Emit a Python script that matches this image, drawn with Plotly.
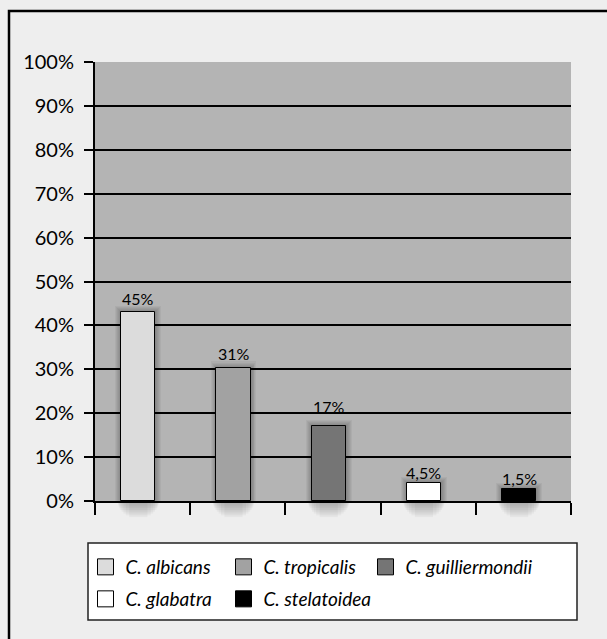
import plotly.graph_objects as go

species = ["C. albicans", "C. tropicalis", "C. guilliermondii", "C. glabatra", "C. stelatoidea"]
heights = [43.0, 30.3, 17.0, 4.0, 2.7]          # bar heights as drawn
labels = ["45%", "31%", "17%", "4,5%", "1,5%"]  # printed data labels
colors = ["#dcdcdc", "#a2a2a2", "#757575", "#ffffff", "#000000"]
ytick_vals = [0, 10, 20, 30, 40, 50, 60, 70, 80, 90, 100]
ytick_text = ["0%", "10%", "20%", "30%", "40%", "50%", "60%", "70%", "80%", "90%", "100%"]

# layout / style settings
W, H = 607, 639
L, R, T, B = 95, 36, 62, 138
pw, ph = W - L - R, H - T - B
label_lift = [14, 14, 20, 11, 11]     # px gap from bar top to label centre
leg_pos = [(105, 567), (243, 567), (385, 567), (105, 599), (243, 599)]
BAR_W, BAR_OFF = 0.36, -0.225
FONT = "Lato"

def px_x(p):
    return (p - L) / pw

def px_y(p):
    return (H - B - p) / ph

fig = go.Figure()
# soft shadows around the bars (inside plot)
for k in range(1, 7):
    fig.add_trace(go.Bar(
        x=species, y=[h + 0.25 * k for h in heights],
        width=BAR_W + 0.02 * k, offset=BAR_OFF - 0.01 * k,
        marker=dict(color="rgba(0,0,0,0.045)", line=dict(width=0)),
        showlegend=False, hoverinfo="skip"))
for i, name in enumerate(species):
    fig.add_trace(go.Bar(
        x=[name], y=[heights[i]],
        marker=dict(color=colors[i], line=dict(color="black", width=1)),
        width=BAR_W, offset=BAR_OFF, showlegend=False, hoverinfo="skip"))

annotations = []
shapes = []
NS = 9
for i, name in enumerate(species):
    annotations.append(dict(
        x=name, y=heights[i], xref="x", yref="y", text=labels[i], showarrow=False,
        xanchor="center", yanchor="middle", yshift=label_lift[i],
        xshift=(BAR_OFF + BAR_W / 2) * pw / len(species),
        font=dict(family=FONT, size=16, color="black")))
    c = i + BAR_OFF + BAR_W / 2
    for k in range(1, NS + 1):
        hw = (BAR_W / 2 + 0.04) * (1 - (k / (NS + 1)) ** 2) ** 0.5
        shapes.append(dict(
            type="rect", xref="x", yref="paper", x0=c - hw, x1=c + hw,
            y0=px_y(H - B + 1.8 * k), y1=px_y(H - B + 1),
            fillcolor="rgba(0,0,0,0.035)", line=dict(width=0), layer="above"))

legends = {}
for i, name in enumerate(species):
    key = "legend" if i == 0 else "legend%d" % (i + 1)
    fig.add_trace(go.Scatter(
        x=[None], y=[None], mode="markers", name=name,
        marker=dict(symbol="square", size=16, color=colors[i],
                    line=dict(color="black", width=1)),
        legend=key, showlegend=True))
    cx, cy = leg_pos[i]
    legends[key] = dict(orientation="h", xanchor="left", yanchor="middle",
                        x=px_x(cx - 19.5), y=px_y(cy),
                        bgcolor="rgba(0,0,0,0)", borderwidth=0, itemwidth=30,
                        font=dict(family=FONT, size=19, color="black", style="italic"))

shapes += [
    dict(type="rect", xref="paper", yref="paper",
         x0=px_x(88), x1=px_x(577), y0=px_y(620), y1=px_y(543),
         fillcolor="white", line=dict(color="#222222", width=1.5), layer="below"),
    dict(type="rect", xref="paper", yref="paper",
         x0=px_x(9), x1=px_x(640), y0=px_y(680), y1=px_y(11),
         fillcolor="rgba(0,0,0,0)", line=dict(color="black", width=2.5), layer="above"),
]

fig.update_layout(
    width=W, height=H,
    margin=dict(l=L, r=R, t=T, b=B, pad=0),
    paper_bgcolor="#eeeeee", plot_bgcolor="#b4b4b4",
    barmode="overlay", bargap=0,
    xaxis=dict(type="category", categoryorder="array", categoryarray=species,
               showticklabels=False, tickson="boundaries", ticks="outside",
               ticklen=12, tickwidth=2, tickcolor="black",
               showline=True, linecolor="black", linewidth=2,
               showgrid=False, range=[-0.5, 4.5], fixedrange=True),
    yaxis=dict(range=[0, 100], tickvals=ytick_vals, ticktext=ytick_text,
               tickfont=dict(family=FONT, size=20, color="black"),
               ticks="outside", ticklen=9, tickwidth=2, tickcolor="black",
               showline=True, linecolor="black", linewidth=2,
               showgrid=True, gridcolor="black", gridwidth=2,
               zeroline=False, ticklabelstandoff=6, fixedrange=True),
    annotations=annotations,
    shapes=shapes,
    **legends,
)

fig.write_html("out.html")
